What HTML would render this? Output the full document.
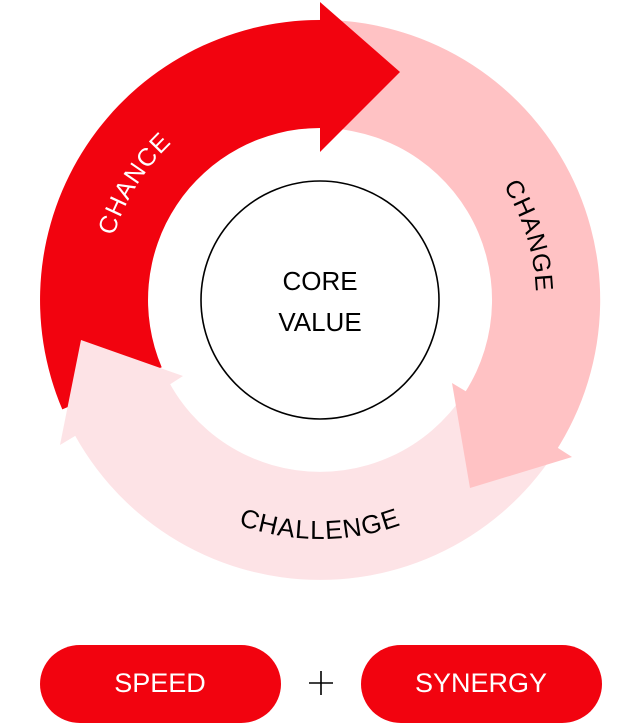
<!DOCTYPE html>
<html><head><meta charset="utf-8"><style>
html,body{margin:0;padding:0;background:#fff;width:640px;height:724px;overflow:hidden}
svg{display:block}
text{font-family:"Liberation Sans",sans-serif}
</style></head><body>
<svg width="640" height="724" viewBox="0 0 640 724">
<defs>
<path id="p1" d="M107.3,337.5 A216 216 0 0 1 260.5,92.4"/>
<path id="p2" d="M428,113 A216 216 0 0 1 514.2,394.7"/>
<path id="p3" d="M151,469 A239 239 0 0 0 489,469"/>
</defs>
<path d="M573.7,418.4 A280 280 0 0 1 66.3,418.4 L164.2,372.7 A172 172 0 0 0 475.8,372.7 Z" fill="#fde3e6"/>
<path d="M295.6,21 A280 280 0 0 1 554.9,452.6 L464.3,393.7 A172 172 0 0 0 305,128.7 Z" fill="#ffc2c4"/>
<path d="M62.3,409.4 A280 280 0 0 1 320,20 L320,128 A172 172 0 0 0 161.7,367.2 Z" fill="#f2030f"/>
<path d="M467,392 L452,383 L470,488 L572,457 L558,448 Z" fill="#ffc2c4"/>
<path d="M320,2 L400,72 L320,152 Z" fill="#f2030f"/>
<path d="M75,436 L60,445 L81,340 L183,376 L169,385 Z" fill="#fde3e6"/>
<circle cx="320" cy="300" r="119" fill="#fff" stroke="#000" stroke-width="1.6"/>
<text x="320" y="290" font-size="26" text-anchor="middle" fill="#000">CORE</text>
<text x="320" y="331" font-size="26" text-anchor="middle" fill="#000">VALUE</text>
<text font-size="25" fill="#fff" letter-spacing="1"><textPath href="#p1" startOffset="50%" text-anchor="middle">CHANCE</textPath></text>
<text font-size="25" fill="#000" letter-spacing="1"><textPath href="#p2" startOffset="50%" text-anchor="middle">CHANGE</textPath></text>
<text font-size="26" fill="#000" letter-spacing="1"><textPath href="#p3" startOffset="50%" text-anchor="middle">CHALLENGE</textPath></text>
<rect x="40" y="645" width="241" height="78" rx="40" ry="39" fill="#f2030f"/>
<rect x="361" y="645" width="241" height="78" rx="40" ry="39" fill="#f2030f"/>
<text x="160" y="692" font-size="27" text-anchor="middle" fill="#fff">SPEED</text>
<text x="481" y="692" font-size="27" text-anchor="middle" fill="#fff">SYNERGY</text>
<path d="M309,683 H333 M321,671 V695" stroke="#000" stroke-width="1.6"/>
</svg>
</body></html>
